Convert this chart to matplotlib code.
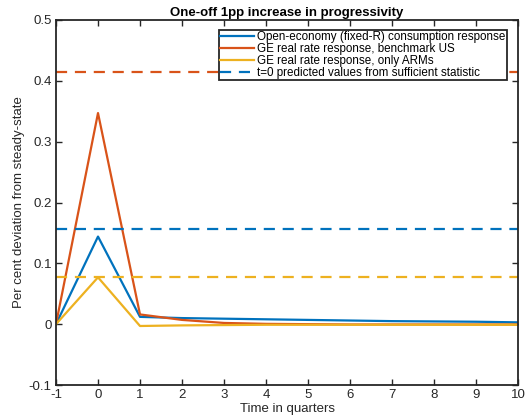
import matplotlib
matplotlib.use("Agg")
import matplotlib.pyplot as plt
import numpy as np

plt.rcParams['font.family'] = ['Liberation Sans', 'DejaVu Sans']
plt.rcParams['axes.unicode_minus'] = False

t = [-1, 0, 1, 2, 3, 4, 5, 6, 7, 8, 9, 10]
open_econ = [0, 0.144, 0.012, 0.010, 0.009, 0.008, 0.007, 0.006, 0.005, 0.0045, 0.004, 0.003]
ge_us = [0, 0.347, 0.016, 0.007, 0.002, 0.0005, 0.0, -0.0005, -0.0005, -0.0005, -0.0005, -0.0005]
ge_arm = [0, 0.077, -0.003, -0.002, -0.0015, -0.001, -0.001, -0.001, -0.001, -0.001, -0.001, -0.001]
pred_open = 0.157
pred_us = 0.415
pred_arm = 0.077

blue = (0/255, 114/255, 189/255)
orange = (217/255, 83/255, 25/255)
yellow = (237/255, 177/255, 32/255)

fig = plt.figure(figsize=(5.29, 4.17), dpi=100)
ax = fig.add_axes([56/529, 1 - 385/417, (518-56)/529, (385-20)/417])

ax.plot(t, open_econ, color=blue, lw=1.6, label='Open-economy (fixed-R) consumption response')
ax.plot(t, ge_us, color=orange, lw=1.6, label='GE real rate response, benchmark US')
ax.plot(t, ge_arm, color=yellow, lw=1.6, label='GE real rate response, only ARMs')
ax.axhline(pred_open, color=blue, lw=1.6, ls=(0, (5, 3.5)), label='t=0 predicted values from sufficient statistic')
ax.axhline(pred_us, color=orange, lw=1.6, ls=(0, (5, 3.5)))
ax.axhline(pred_arm, color=yellow, lw=1.6, ls=(0, (5, 3.5)))

ax.set_xlim(-1, 10)
ax.set_ylim(-0.1, 0.5)
ax.set_xticks(range(-1, 11))
ax.set_yticks([-0.1, 0, 0.1, 0.2, 0.3, 0.4, 0.5])
ax.set_yticklabels(['-0.1', '0', '0.1', '0.2', '0.3', '0.4', '0.5'])
ax.tick_params(direction='in', length=4.5, width=1, top=True, right=True, labelsize=9.5, colors='#262626', pad=3)
for s in ax.spines.values():
    s.set_linewidth(1.3)
    s.set_color('#262626')

ax.set_xlabel('Time in quarters', fontsize=9.5, color='#262626', labelpad=1)
ax.set_ylabel('Per cent deviation from steady-state', fontsize=9.5, color='#262626', labelpad=3)
ax.set_title('One-off 1pp increase in progressivity', fontsize=9.5, fontweight='bold', pad=3)

leg = ax.legend(loc='upper right', bbox_to_anchor=(507/529, 1 - 30/417), bbox_transform=fig.transFigure,
                fontsize=8.4, frameon=True, fancybox=False, framealpha=1,
                borderpad=0.1, labelspacing=0.0, handlelength=2.9, handletextpad=0.3,
                borderaxespad=0)
leg.get_frame().set_edgecolor('#262626')
leg.get_frame().set_linewidth(1.3)

fig.savefig('out.png', dpi=100)
